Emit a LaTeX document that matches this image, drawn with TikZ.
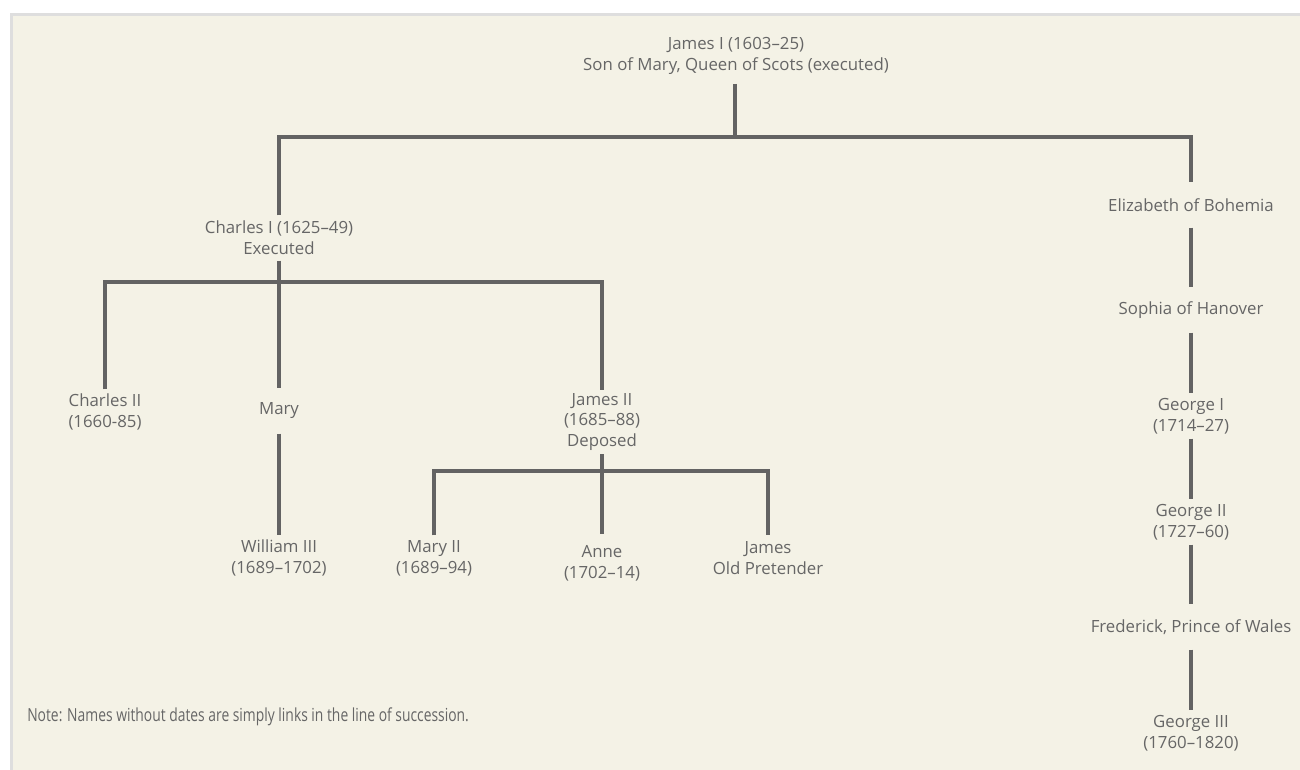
\documentclass[tikz,border=0pt]{standalone}
\usepackage{fontspec}
\setmainfont{Open Sans}
\newfontfamily\notefont[FakeStretch=0.77]{Open Sans}
\usepackage{tikz}
\usetikzlibrary{calc,positioning}

\definecolor{panelbg}{HTML}{F4F2E6}
\definecolor{panelrule}{HTML}{DEDEDE}
\definecolor{inkgray}{HTML}{666666}
\definecolor{linegray}{HTML}{636363}

\begin{document}
\begin{tikzpicture}[x=0.75pt,y=-0.75pt,
  person/.style={align=center, text=inkgray, font=\fontsize{12.6}{15.5}\selectfont,
    minimum height=34pt, inner xsep=2pt, inner ysep=2.5pt, outer sep=0pt},
  link/.style={draw=linegray, line width=2.35pt}]

\useasboundingbox (0,0) rectangle (1300,770);
% panel
\fill[white] (0,0) rectangle (1300,770);
\fill[panelbg] (10,13) rectangle (1302,772);
\draw[panelrule, line width=2.2pt] (11.5,772) -- (11.5,14.5) -- (1302,14.5);

% people
\node[person, outer ysep=4pt] (james1) at (736,56) {James I (1603--25)\\Son of Mary, Queen of Scots (executed)};
\node[person] (charles1) at (279,238) {Charles I (1625--49)\\Executed};
\node[person] (elizabeth) at (1191,205) {Elizabeth of Bohemia};
\node[person] (charles2) at (105,412) {Charles II\\(1660-85)};
\node[person] (mary) at (279,411) {Mary};
\node[person] (james2) at (602,422) {James II\\(1685--88)\\Deposed};
\node[person] (william3) at (279,558) {William III\\(1689--1702)};
\node[person] (mary2) at (434,558) {Mary II\\(1689--94)};
\node[person, outer ysep=5pt] (anne) at (602,563) {Anne\\(1702--14)};
\node[person] (james3) at (768,558) {James\\Old Pretender};
\node[person] (sophia) at (1191,310) {Sophia of Hanover};
\node[person] (george1) at (1191,416) {George I\\(1714--27)};
\node[person] (george2) at (1191,522) {George II\\(1727--60)};
\node[person] (frederick) at (1191,627) {Frederick, Prince of Wales};
\node[person] (george3) at (1191,733) {George III\\(1760--1820)};

\node[anchor=west, text=inkgray, font=\notefont\fontsize{13.5}{15}\selectfont, inner sep=0pt] (note) at (27,717)
  {Note: Names without dates are simply links in the line of succession.};

% bars
\coordinate (bar1) at (735,137);
\coordinate (bar2) at (279,282);
\coordinate (bar3) at (602,471);

% lines
\draw[link] (james1.south -| bar1) -- (bar1);
\draw[link] (charles1.north) -- (charles1.north |- bar1) -- (elizabeth.north |- bar1) -- (elizabeth.north);

\draw[link] (charles1.south) -- (bar2);
\draw[link] (charles2.north) -- (charles2.north |- bar2) -- (james2.north |- bar2) -- (james2.north);
\draw[link] (bar2) -- (mary.north);
\draw[link] (mary.south) -- (william3.north);

\draw[link] (james2.south) -- (bar3);
\draw[link] (mary2.north) -- (mary2.north |- bar3) -- (james3.north |- bar3) -- (james3.north);
\draw[link] (bar3) -- (anne.north);

\draw[link] (elizabeth.south) -- (sophia.north);
\draw[link] (sophia.south) -- (george1.north);
\draw[link] (george1.south) -- (george2.north);
\draw[link] (george2.south) -- (frederick.north);
\draw[link] (frederick.south) -- (george3.north);

\end{tikzpicture}
\end{document}
